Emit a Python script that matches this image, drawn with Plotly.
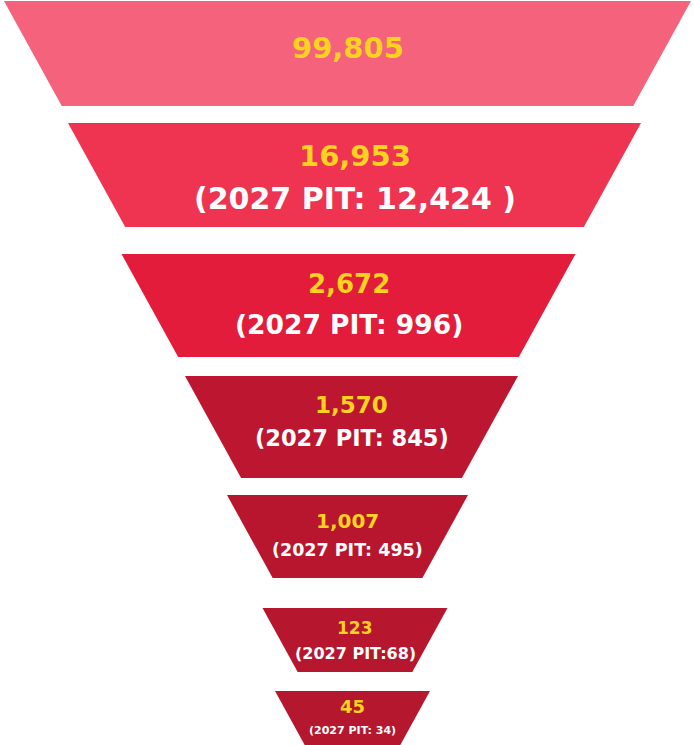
import plotly.graph_objects as go

# ---- data ----
stage_values = [99805, 16953, 2672, 1570, 1007, 123, 45]
pit_labels = ["", "(2027 PIT: 12,424 )", "(2027 PIT: 996)", "(2027 PIT: 845)",
              "(2027 PIT: 495)", "(2027 PIT:68)", "(2027 PIT: 34)"]

# ---- layout / style (pixel geometry of the sliced funnel) ----
W, H = 694, 745
seg_top = [1, 123, 254, 376, 495, 608, 691]
seg_bottom = [106, 227, 357, 478, 578, 672, 748]
seg_top_half = [343.5, 286.5, 227, 166.5, 120.5, 92.5, 77.5]
seg_center = [347.5, 354.5, 348.5, 351.5, 347.5, 355, 352.5]
taper = 0.55
colors = ["#F4627B", "#EE3451", "#E31C3B", "#BD1631", "#B8162F", "#B7162F", "#B4172E"]
val_size = [29, 29, 26, 23, 20, 17, 18]
pit_size = [0, 30, 26.5, 22.5, 17.5, 16, 11]
val_y = [48, 156, 284, 405, 521, 628, 706]
pit_y = [0, 198, 324, 438, 550, 653, 730]
FONT = "DejaVu Sans"

fig = go.Figure()
for i, v in enumerate(stage_values):
    t, b, hw, cx = seg_top[i], seg_bottom[i], seg_top_half[i], seg_center[i]
    bh = hw - taper * (b - t)
    fig.add_trace(go.Scatter(
        x=[cx - hw, cx + hw, cx + bh, cx - bh, cx - hw],
        y=[t, t, b, b, t],
        mode="lines", fill="toself", fillcolor=colors[i],
        line=dict(width=0, color=colors[i]), hoverinfo="skip", showlegend=False))
    fig.add_annotation(x=cx, y=val_y[i], xref="x", yref="y",
                       text=f"<b>{v:,}</b>", showarrow=False,
                       font=dict(family=FONT, size=val_size[i], color="#FFD21F"),
                       xanchor="center", yanchor="middle")
    if pit_labels[i]:
        fig.add_annotation(x=cx, y=pit_y[i], xref="x", yref="y",
                           text=f"<b>{pit_labels[i]}</b>", showarrow=False,
                           font=dict(family=FONT, size=pit_size[i], color="#FFFFFF"),
                           xanchor="center", yanchor="middle")

fig.update_layout(
    width=W, height=H, margin=dict(l=0, r=0, t=0, b=0),
    paper_bgcolor="white", plot_bgcolor="white",
    xaxis=dict(range=[0, W], visible=False, fixedrange=True),
    yaxis=dict(range=[H, 0], visible=False, fixedrange=True),
    showlegend=False,
)
fig.write_html("out.html", config={"displayModeBar": False},
               post_script="document.body.style.margin='0';")
